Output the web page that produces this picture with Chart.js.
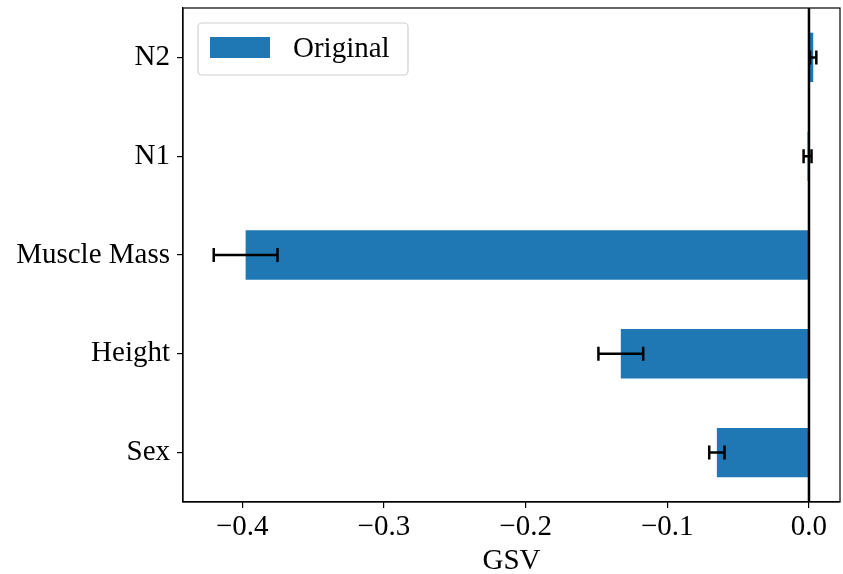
<!DOCTYPE html>
<html>
<head>
<meta charset="utf-8">
<script src="https://cdn.jsdelivr.net/npm/chart.js@4/dist/chart.umd.min.js"></script>
<style>
html, body { margin: 0; padding: 0; background: #fff; }
#wrap { width: 843px; height: 574px; }
</style>
</head>
<body>
<div id="wrap"><canvas id="barChart"></canvas></div>
<script>
// data (top to bottom)
var categories = ["N2", "N1", "Muscle Mass", "Height", "Sex"];
var gsv = [0.003, -0.001, -0.3976, -0.1328, -0.065];
var gsvErr = [0.0022, 0.0028, 0.0225, 0.0158, 0.0054];
var xTicks = [-0.4, -0.3, -0.2, -0.1, 0.0];

var FONT = "'Liberation Serif', 'DejaVu Serif', serif";

// frame, zero line, error bars, legend box
var extras = {
  id: 'extras',
  afterDatasetsDraw: function(chart) {
    var c = chart.ctx, a = chart.chartArea;
    var xs = chart.scales.x, ys = chart.scales.y;
    c.save();
    // zero line
    var x0 = xs.getPixelForValue(0);
    c.strokeStyle = '#000';
    c.lineWidth = 2.5;
    c.beginPath();
    c.moveTo(x0, a.top);
    c.lineTo(x0, a.bottom);
    c.stroke();
    // error bars
    c.lineWidth = 2.5;
    for (var i = 0; i < gsv.length; i++) {
      var y = ys.getPixelForValue(i);
      var xl = xs.getPixelForValue(gsv[i] - gsvErr[i]);
      var xr = xs.getPixelForValue(gsv[i] + gsvErr[i]);
      c.beginPath();
      c.moveTo(xl, y); c.lineTo(xr, y);
      c.moveTo(xl, y - 7); c.lineTo(xl, y + 7);
      c.moveTo(xr, y - 7); c.lineTo(xr, y + 7);
      c.stroke();
    }
    // frame
    c.lineWidth = 1.2;
    c.strokeRect(a.left, a.top, a.right - a.left, a.bottom - a.top);
    // legend
    var ds = chart.data.datasets[0];
    var lx = 198, ly = 23, lw = 210, lh = 52;
    c.fillStyle = 'rgba(255,255,255,0.8)';
    c.strokeStyle = '#d0d0d0';
    c.lineWidth = 1.2;
    c.beginPath();
    c.roundRect(lx, ly, lw, lh, 4);
    c.fill();
    c.stroke();
    c.fillStyle = ds.backgroundColor;
    c.fillRect(210, 37, 60, 21);
    c.fillStyle = '#000';
    c.font = '29px ' + FONT;
    c.textBaseline = 'middle';
    c.fillText(ds.label, 293, 49);
    c.restore();
  }
};

new Chart(document.getElementById('barChart'), {
  type: 'bar',
  data: {
    labels: categories,
    datasets: [{
      label: 'Original',
      data: gsv,
      backgroundColor: '#1f77b4',
      borderWidth: 0,
      barPercentage: 0.5,
      categoryPercentage: 1.0
    }]
  },
  options: {
    indexAxis: 'y',
    responsive: true,
    maintainAspectRatio: false,
    animation: false,
    layout: { padding: { top: 8, right: 3, left: 0, bottom: 0 } },
    plugins: { legend: { display: false }, tooltip: { enabled: false } },
    scales: {
      x: {
        min: -0.4418,
        max: 0.0219,
        afterBuildTicks: function(s) { s.ticks = xTicks.map(function(v) { return { value: v }; }); },
        afterFit: function(s) { s.height = 72; },
        grid: { display: true, drawOnChartArea: false, drawTicks: true, tickLength: 6, color: '#000', lineWidth: 1.2 },
        border: { display: true, color: '#000', width: 1.2 },
        ticks: {
          color: '#000',
          font: { family: FONT, size: 29 },
          padding: 2,
          callback: function(v) { return (v < 0 ? '\u2212' : '') + Math.abs(v).toFixed(1); }
        },
        title: { display: true, text: 'GSV', color: '#000', font: { family: FONT, size: 29, lineHeight: 0.9 }, padding: { top: 0, bottom: 0 } }
      },
      y: {
        afterFit: function(s) { s.width = 183; s.paddingTop = 0; s.paddingBottom = 0; },
        grid: { display: true, offset: false, drawOnChartArea: false, drawTicks: true, tickLength: 6, color: '#000', lineWidth: 1.2 },
        border: { display: true, color: '#000', width: 1.2 },
        ticks: { color: '#000', font: { family: FONT, size: 29, lineHeight: 0.2 }, padding: 7 }
      }
    }
  },
  plugins: [extras]
});
</script>
</body>
</html>
